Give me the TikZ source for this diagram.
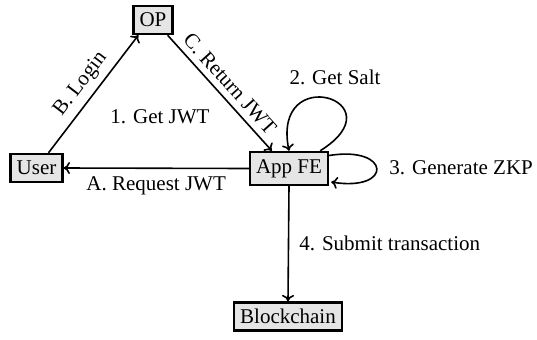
\documentclass[tikz,border=0pt]{standalone}
\usepackage{fontspec}
\setmainfont{Liberation Serif}
\usetikzlibrary{calc,arrows.meta}
\tikzset{
  box/.style={draw=black, line width=1.2pt, fill=gray!20, inner xsep=3pt, inner ysep=0pt, minimum height=14pt, font=\fontsize{10.5}{12}\selectfont},
  conn/.style={line width=0.8pt, -{To[length=3.2pt,width=6pt]}},
  lbl/.style={font=\fontsize{10.5}{12}\selectfont, inner sep=2pt}
}
\begin{document}
\begin{tikzpicture}[x=0.5pt, y=-0.5pt]
\useasboundingbox (0,0) rectangle (537,339);
\node[box] (OP) at (153,20) {OP};
\node[box] (User) at (36.5,168) {User};
\node[box, minimum height=16.5pt] (App) at (289,168.5) {App FE};
\node[box] (Block) at (288,316.5) {Blockchain};

\draw[conn] ($(User.north)+(12,0)$) -- node[lbl, midway, sloped, above=1pt] {B. Login} ($(OP.south west)+(6,0)$);
\draw[conn] ($(OP.south east)+(-6,0)$) -- node[lbl, midway, sloped, above=1pt] {C. Return JWT} ($(App.north west)+(23,0)$);
\draw[conn] (App.west) -- node[lbl, midway, below=2pt] {A. Request JWT} (User.east);
\draw[conn] (App.south) -- node[lbl, midway, right=3pt] {4. Submit transaction} (Block.north);
\node[lbl] (getjwt) at (160,117) {1. Get JWT};
\draw[conn] ($(App.north east)+(-9,0)$) .. controls +(80,-50) and +(-18,-90) .. (App.north);
\node[lbl] (salt) at (335,77) {2. Get Salt};
\draw[conn] ($(App.east)+(0,-13)$) .. controls +(62,-10) and +(62,10) .. ($(App.east)+(2,13.5)$);
\node[lbl, anchor=west] (zkp) at (385,168) {3. Generate ZKP};
\end{tikzpicture}
\end{document}
